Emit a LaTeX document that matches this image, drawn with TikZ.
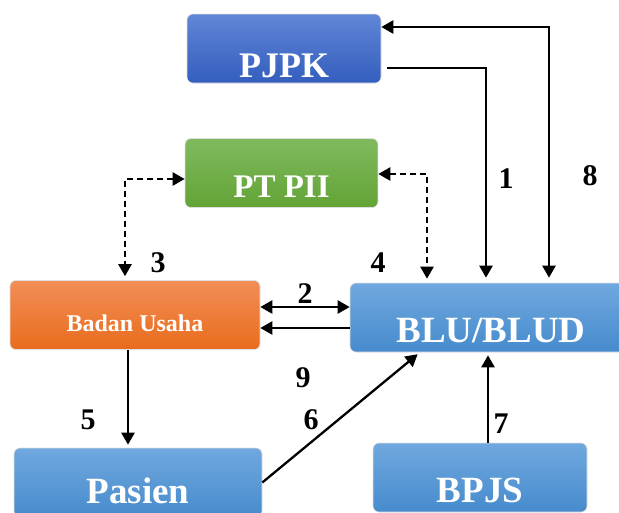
\documentclass[tikz,border=0pt]{standalone}
\usepackage{fontspec}
\setmainfont{Liberation Serif}
\usepackage{tikz}
\usetikzlibrary{positioning}
\usetikzlibrary{arrows.meta}
\usetikzlibrary{calc}

\definecolor{pjpkTop}{RGB}{96,134,214}
\definecolor{pjpkBot}{RGB}{52,94,190}
\definecolor{piiTop}{RGB}{128,186,94}
\definecolor{piiBot}{RGB}{98,163,54}
\definecolor{buTop}{RGB}{242,142,88}
\definecolor{buBot}{RGB}{232,108,28}
\definecolor{bluTop}{RGB}{112,168,222}
\definecolor{bluBot}{RGB}{70,139,205}

\tikzset{
  box/.style={rounded corners=6pt, minimum height=69pt, inner sep=0pt,
    text=white, text depth=0pt, draw=white!75!gray, line width=0.6pt},
  bluebox/.style={box, top color=bluTop, bottom color=bluBot},
  conn/.style={line width=2.3pt, -{Triangle[length=12pt,width=13pt]}},
  both/.style={{Triangle[length=12pt,width=13pt]}-{Triangle[length=12pt,width=13pt]}},
  dconn/.style={conn, dash pattern=on 6pt off 4pt},
  num/.style={font=\bfseries\fontsize{30}{30}\selectfont}
}

\begin{document}
\begin{tikzpicture}[x=1pt,y=1pt]
\useasboundingbox (0,0) rectangle (619,-512);

\node[box, top color=pjpkTop, bottom color=pjpkBot, minimum width=194pt,
  text height=57pt, font=\bfseries\fontsize{36}{36}\selectfont] (pjpk) at (284,-48.5) {PJPK};
\node[box, top color=piiTop, bottom color=piiBot, minimum width=193pt,
  text height=48pt, font=\bfseries\fontsize{33}{33}\selectfont] (ptpii) at (281.5,-173) {PT PII};
\node[box, top color=buTop, bottom color=buBot, minimum width=250pt,
  text height=32pt, font=\bfseries\fontsize{24}{24}\selectfont] (badan) at (135,-315) {Badan Usaha};
\node[bluebox, minimum width=282pt,
  text height=49pt, font=\bfseries\fontsize{37}{37}\selectfont] (blu) at (491,-317.5) {BLU/BLUD};
\node[bluebox, minimum width=248pt,
  text height=42pt, font=\bfseries\fontsize{37}{37}\selectfont] (pasien) at (138,-482.5) {Pasien};
\node[bluebox, minimum width=214pt,
  text height=50pt, font=\bfseries\fontsize{37}{37}\selectfont] (bpjs) at (480,-477.5) {BPJS};

% PJPK <-> BLU/BLUD
\draw[conn, both, shorten >=5pt] ([yshift=21.5pt]pjpk.east) -| ([xshift=58pt]blu.north);
\draw[conn, shorten >=5pt] ([xshift=6pt,yshift=-19.5pt]pjpk.east) -| ([xshift=-5pt]blu.north);

% PT PII
\draw[dconn, both, shorten >=4pt] ([yshift=-6pt]ptpii.west) -| ([xshift=-10pt]badan.north);
\draw[dconn, both, shorten >=4pt] ([yshift=-1pt]ptpii.east) -| ([xshift=-64pt]blu.north);

% Badan Usaha <-> BLU/BLUD
\draw[conn, both] ([yshift=8pt]badan.east) -- ([yshift=8pt]badan.east -| blu.west);
\draw[conn] ([yshift=-13pt]badan.east -| blu.west) -- ([yshift=-13pt]badan.east);

\draw[conn, shorten >=3pt] ([xshift=-7pt]badan.south) -- ([xshift=-7pt]badan.south |- pasien.north);
\draw[conn, shorten >=3pt] (pasien.east) -- ([xshift=-71pt]blu.south);
\draw[conn, shorten >=3pt] ([xshift=8pt]bpjs.north) -- ([xshift=8pt]bpjs.north |- blu.south);

\node[num] (n1) at (506,-179) {1};
\node[num] (n2) at (305,-294) {2};
\node[num] (n3) at (158,-263) {3};
\node[num] (n4) at (378,-263) {4};
\node[num] (n5) at (88,-420) {5};
\node[num] (n6) at (311,-420) {6};
\node[num] (n7) at (501,-424) {7};
\node[num] (n8) at (590,-176) {8};
\node[num] (n9) at (303,-378) {9};
\end{tikzpicture}
\end{document}
